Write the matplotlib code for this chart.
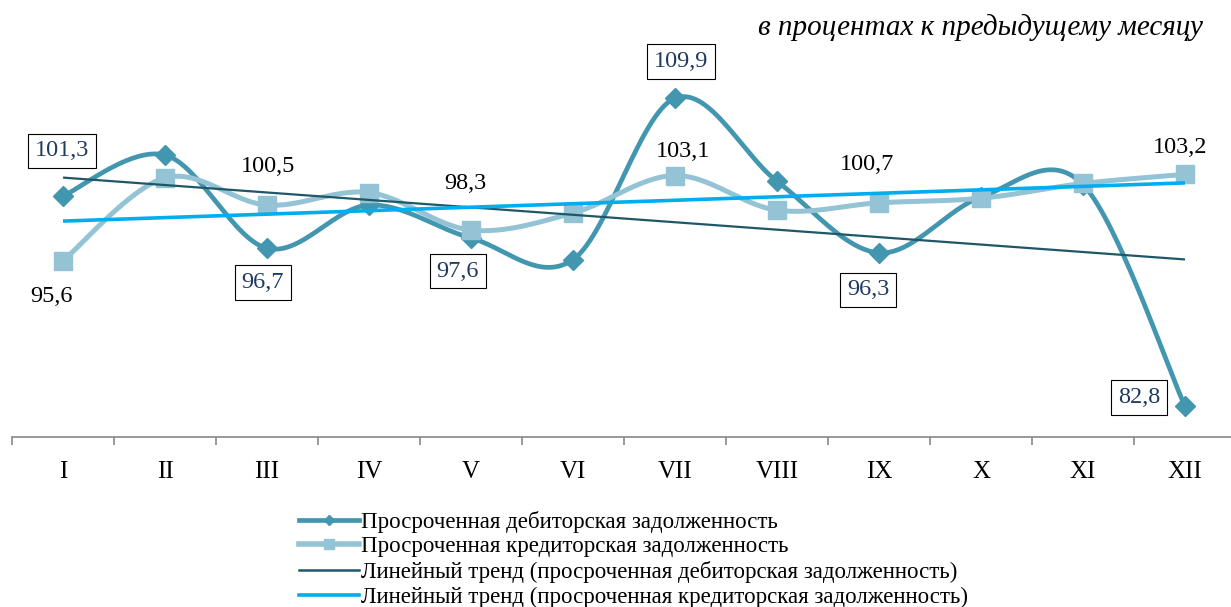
import numpy as np
import matplotlib
matplotlib.use("Agg")
import matplotlib.pyplot as plt
from matplotlib.lines import Line2D

months = ["I", "II", "III", "IV", "V", "VI", "VII", "VIII", "IX", "X", "XI", "XII"]
debit = [101.3, 104.9, 96.7, 100.5, 97.6, 95.7, 109.9, 102.6, 96.3, 101.2, 102.3, 82.8]
credit = [95.6, 102.9, 100.5, 101.6, 98.3, 99.8, 103.1, 100.05, 100.7, 101.1, 102.4, 103.2]
debit_labels = {0: "101,3", 2: "96,7", 4: "97,6", 6: "109,9", 8: "96,3", 11: "82,8"}
credit_labels = {0: "95,6", 2: "100,5", 4: "98,3", 6: "103,1", 8: "100,7", 11: "103,2"}
legend_labels = [
    "Просроченная дебиторская задолженность",
    "Просроченная кредиторская задолженность",
    "Линейный тренд (просроченная дебиторская задолженность)",
    "Линейный тренд (просроченная кредиторская задолженность)",
]
title = "в процентах к предыдущему месяцу"

C_DEB = "#4396AF"
C_CRE = "#93C3D5"
C_TD = "#1E5868"
C_TC = "#00AEEF"

plt.rcParams['font.family'] = ['Liberation Serif', 'DejaVu Serif']


def smooth(x, y, n=30):
    x = np.asarray(x, float)
    y = np.asarray(y, float)
    P = np.column_stack([x, y])
    out = []
    m = len(P)
    for i in range(m - 1):
        p0 = P[i - 1] if i > 0 else P[i]
        p1 = P[i]
        p2 = P[i + 1]
        p3 = P[i + 2] if i + 2 < m else P[i + 1]
        c1 = p1 + (p2 - p0) / 6.0
        c2 = p2 - (p3 - p1) / 6.0
        t = np.linspace(0, 1, n, endpoint=(i == m - 2))[:, None]
        seg = ((1 - t) ** 3) * p1 + 3 * ((1 - t) ** 2) * t * c1 + 3 * (1 - t) * t ** 2 * c2 + t ** 3 * p2
        out.append(seg)
    out = np.vstack(out)
    return out[:, 0], out[:, 1]


W, H = 1231, 607
fig = plt.figure(figsize=(W / 100, H / 100), dpi=100)
ax = fig.add_axes([12 / W, (H - 437) / H, 1224 / W, (437 - 60) / H])

x = np.arange(len(months))
ax.set_xlim(-0.5, len(months) - 0.5)
ax.set_ylim(80.1, 113.26)

sx, sy = smooth(x, debit)
ax.plot(sx, sy, color=C_DEB, lw=3.4, zorder=3)
ax.plot(x, debit, ls='none', marker='D', ms=10, color=C_DEB, zorder=3.5)

sx, sy = smooth(x, credit)
ax.plot(sx, sy, color=C_CRE, lw=3.6, zorder=4)
ax.plot(x, credit, ls='none', marker='s', ms=13, color=C_CRE, zorder=4.5)

# trends
for ser, col, lw, z in [(debit, C_TD, 1.6, 5), (credit, C_TC, 2.6, 6)]:
    k, b = np.polyfit(x, ser, 1)
    ax.plot(x, k * x + b, color=col, lw=lw, zorder=z, solid_capstyle='butt')

deb_off = {0: (-1, 45), 2: (-4, -34), 4: (-13, -33), 6: (6, 37), 8: (-11, -37), 11: (-46, 9)}
cre_off = {0: (-11, -36), 2: (1, 39), 4: (-6, 47), 6: (8, 24), 8: (-12, 38), 11: (-5, 27)}

for i, t in debit_labels.items():
    ax.annotate(t, (x[i], debit[i]), xytext=deb_off[i], textcoords='offset pixels',
                ha='center', va='center', fontsize=17.5, color='#1F3A60', zorder=10,
                bbox=dict(boxstyle='square,pad=0.28', fc='white', ec='black', lw=0.8))
for i, t in credit_labels.items():
    ax.annotate(t, (x[i], credit[i]), xytext=cre_off[i], textcoords='offset pixels',
                ha='center', va='center', fontsize=17.5, color='black', zorder=10)

for s in ['top', 'left', 'right']:
    ax.spines[s].set_visible(False)
ax.spines['bottom'].set_color('#888888')
ax.spines['bottom'].set_linewidth(1.2)
ax.set_yticks([])
ax.set_xticks(x)
ax.set_xticklabels(months, fontsize=18)
ax.tick_params(axis='x', which='major', length=0, pad=17)
ax.set_xticks(np.arange(-0.5, len(months) + 0.5, 1), minor=True)
ax.tick_params(axis='x', which='minor', length=6, width=1.2, color='#888888')

fig.text(1203 / W, 1 - 28 / H, title, ha='right', va='center', fontsize=21, style='italic')

handles = [
    Line2D([], [], color=C_DEB, lw=3.4, marker='D', ms=5),
    Line2D([], [], color=C_CRE, lw=4, marker='s', ms=7),
    Line2D([], [], color=C_TD, lw=1.8),
    Line2D([], [], color=C_TC, lw=2.6),
]
fig.legend(handles, legend_labels, loc='upper left', bbox_to_anchor=(299 / W, 1 - 511 / H),
           frameon=False, fontsize=16.5, handlelength=2.6, handletextpad=0.1,
           labelspacing=0.15, borderpad=0, borderaxespad=0)

fig.savefig("out.png", dpi=100)
